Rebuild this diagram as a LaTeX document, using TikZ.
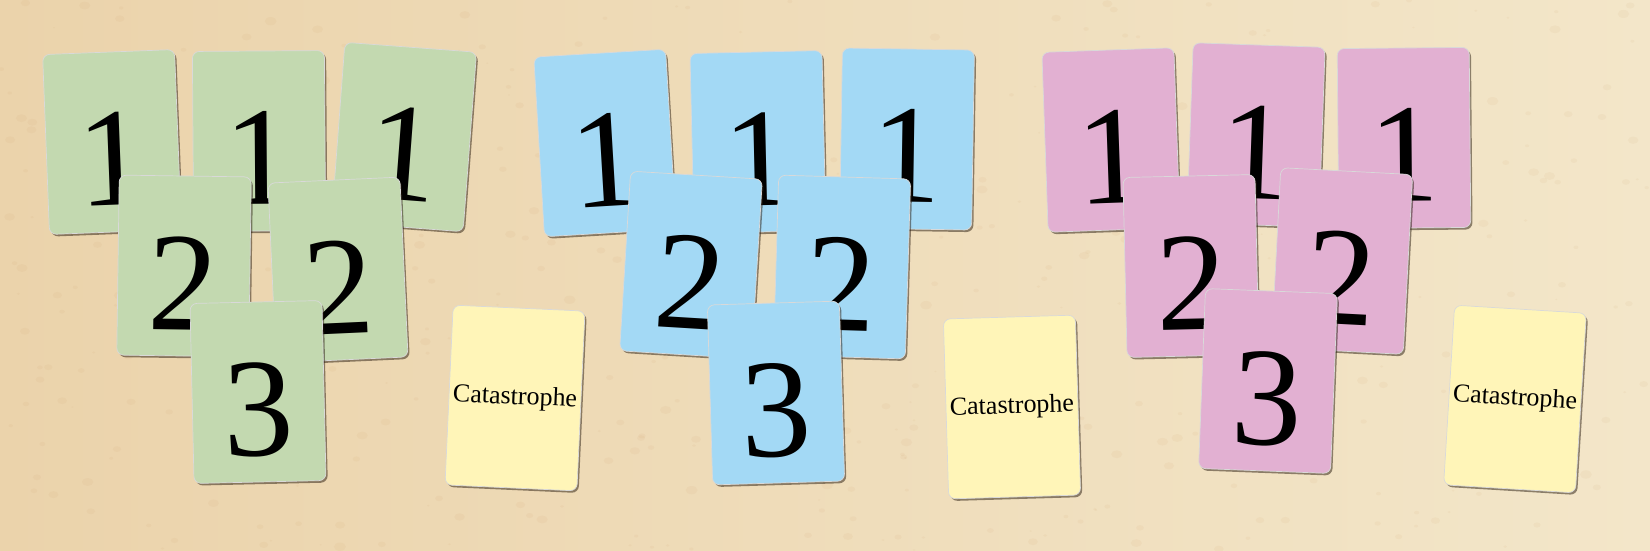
\documentclass[tikz,border=0pt]{standalone}
\usepackage{fontspec}
\setmainfont{Liberation Serif}
\usetikzlibrary{shadows}
\definecolor{paperleft}{RGB}{235,211,171}
\definecolor{paperright}{RGB}{243,230,201}
\definecolor{paperlight}{RGB}{244,231,204}
\definecolor{paperspot}{RGB}{200,145,90}
\definecolor{cardgreen}{RGB}{195,217,176}
\definecolor{cardblue}{RGB}{163,217,245}
\definecolor{cardpink}{RGB}{226,176,210}
\definecolor{cardyellow}{RGB}{255,245,184}
\tikzset{
    Card/.style = {rectangle, rounded corners=0.07cm, minimum width=1.32cm, minimum height=1.80cm, inner sep=0pt, draw=black!15, line width=0.2pt, drop shadow={shadow xshift=0.5pt, shadow yshift=-0.6pt, opacity=0.5, fill=black!80!brown}, font=\fontsize{40}{40}\selectfont, text height=1.27cm, text depth=0pt}
}
\tikzset{
    Catcard/.style = {Card, fill=cardyellow, font=\fontsize{7.4}{8}\selectfont, text height=, text depth=}
}

\begin{document}
\begin{tikzpicture}
\useasboundingbox (0,0) rectangle (16.5,5.5);
\shade[left color=paperleft, middle color=paperlight, right color=paperright] (0,0) rectangle (16.5,5.5);
% parchment grain
\pgfmathsetseed{11}
\foreach \k in {1,...,500}{
    \pgfmathsetmacro{\sx}{16.5*rnd}
    \pgfmathsetmacro{\sy}{5.5*rnd}
    \pgfmathsetmacro{\sr}{0.01+0.05*rnd}
    \fill[paperspot, opacity=0.07] (\sx,\sy) ellipse ({\sr} and {0.7*\sr});
}
\tikzset{
    Green/.style = {Card, fill=cardgreen},
    Blue/.style = {Card, fill=cardblue},
    Pink/.style = {Card, fill=cardpink},
}
% green group
\node[Green, rotate=2.2] at (1.12,4.08) (g1a) {1};
\node[Green, rotate=0.4] at (2.59,4.09) (g1b) {1};
\node[Green, rotate=-4.3] at (4.04,4.13) (g1c) {1};
\node[Green, rotate=-0.8] at (1.84,2.84) (g2a) {2};
\node[Green, rotate=2.6] at (3.38,2.80) (g2b) {2};
\node[Green, rotate=1.3] at (2.58,1.58) (g3) {3};
\node[Catcard, rotate=-2.6] at (5.15,1.52) (y1) {Catastrophe};
% blue group
\node[Blue, rotate=3.4] at (6.05,4.07) (b1a) {1};
\node[Blue, rotate=1.3] at (7.58,4.08) (b1b) {1};
\node[Blue, rotate=-0.9] at (9.07,4.11) (b1c) {1};
\node[Blue, rotate=-3.5] at (6.91,2.85) (b2a) {2};
\node[Blue, rotate=-1.7] at (8.42,2.83) (b2b) {2};
\node[Blue, rotate=1.7] at (7.76,1.57) (b3) {3};
\node[Catcard, rotate=1.7] at (10.12,1.43) (y2) {Catastrophe};
% pink group
\node[Pink, rotate=2] at (11.11,4.10) (p1a) {1};
\node[Pink, rotate=-2] at (12.56,4.15) (p1b) {1};
\node[Pink, rotate=0.5] at (14.04,4.12) (p1c) {1};
\node[Pink, rotate=1.3] at (11.91,2.84) (p2a) {2};
\node[Pink, rotate=-3] at (13.42,2.89) (p2b) {2};
\node[Pink, rotate=-2.2] at (12.68,1.69) (p3) {3};
\node[Catcard, rotate=-3.5] at (15.15,1.51) (y3) {Catastrophe};
\end{tikzpicture}
\end{document}
